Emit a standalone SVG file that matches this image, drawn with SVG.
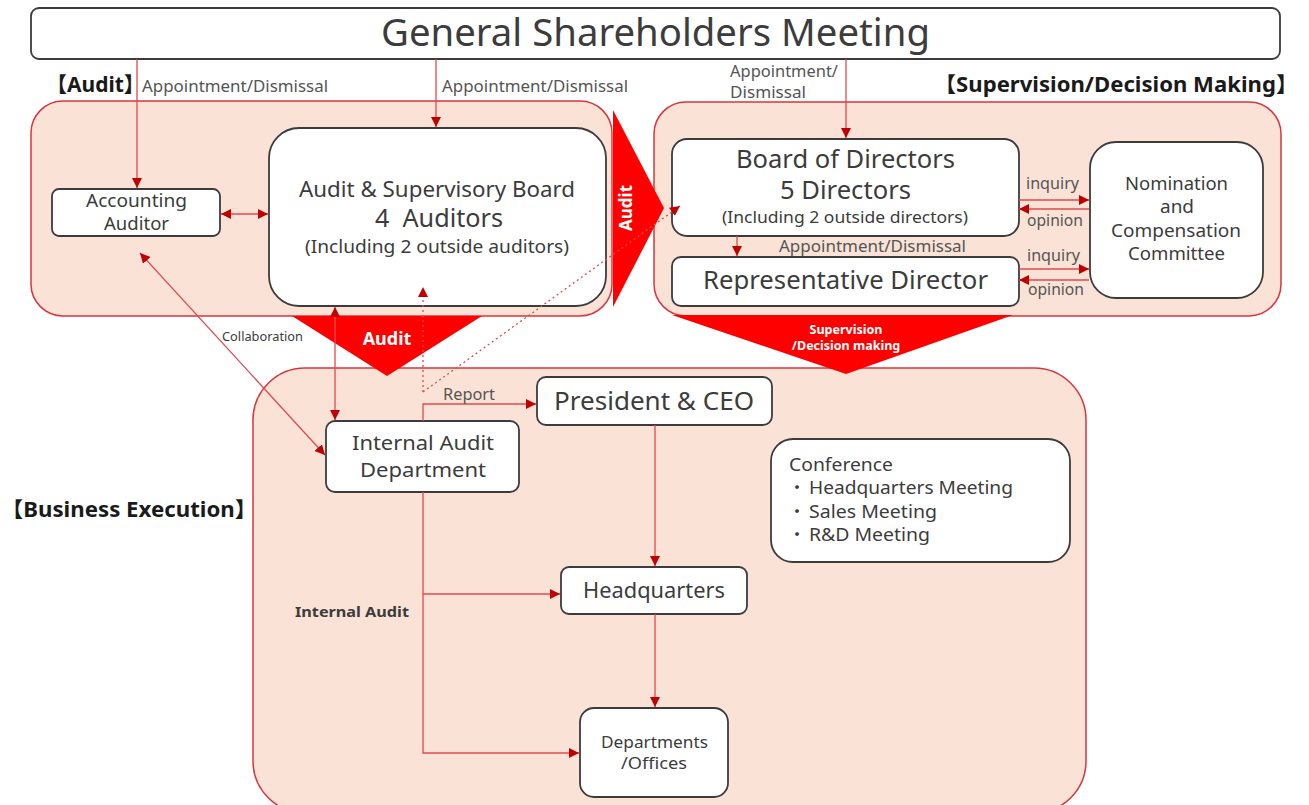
<svg xmlns="http://www.w3.org/2000/svg" width="1309" height="805" viewBox="0 0 1309 805">
<style>
text{font-family:"Noto Sans","Noto Sans CJK JP",sans-serif;fill:#3c3c3c}
.panel{fill:#fae3d6;stroke:#d9363c;stroke-width:1.5}
.box{fill:#fff;stroke:#3c3c3c;stroke-width:1.8}
.c{stroke:#e0494e;stroke-width:1.3;fill:none}
.dot{stroke:#e0494e;stroke-width:1.3;fill:none;stroke-dasharray:2 3}
.big{fill:#ff0000}
.lbl{font-size:16px;fill:#555}
.hd{font-size:21px;font-weight:bold;fill:#1a1a1a}
.m{text-anchor:middle}
.wt{fill:#fff;font-weight:bold;text-anchor:middle}
</style>
<defs>
<marker id="ah" viewBox="0 0 10 10" refX="10" refY="5" markerWidth="10" markerHeight="10" markerUnits="userSpaceOnUse" orient="auto-start-reverse">
<path d="M0,0 L10,5 L0,10 z" fill="#c00000"/>
</marker>
</defs>

<g id="panels">
<rect id="audit-panel" class="panel" x="31" y="101" width="581" height="215" rx="32"/>
<rect id="supervision-panel" class="panel" x="654" y="102" width="627" height="214" rx="32"/>
<rect id="business-panel" class="panel" x="253" y="368" width="833" height="445" rx="52"/>
</g>

<g id="big-arrows">
<polygon class="big" points="613,110 664,208 613,307"/>
<text class="wt" font-size="17" transform="translate(632,208) rotate(-90)">Audit</text>
<polygon class="big" points="292,316 482,316 387,376"/>
<text class="wt" x="387" y="345" font-size="18">Audit</text>
<polygon class="big" points="672,315 1013,315 846,374"/>
<text class="wt" x="846" y="334" font-size="12.5">Supervision</text>
<text class="wt" x="846" y="350" font-size="12.5">/Decision making</text>
</g>

<g id="section-labels">
<text class="hd" x="46" y="92">【Audit】</text>
<text class="hd" x="934" y="92" textLength="364" lengthAdjust="spacingAndGlyphs">【Supervision/Decision Making】</text>
<text class="hd" x="1" y="517" textLength="256" lengthAdjust="spacingAndGlyphs">【Business Execution】</text>
</g>

<g id="gsm">
<rect class="box" x="31" y="8" width="1249" height="51" rx="8"/>
<text x="381" y="46" font-size="38" fill="#222" textLength="549" lengthAdjust="spacingAndGlyphs">General Shareholders Meeting</text>
</g>

<g id="accounting-auditor">
<rect class="box" x="52" y="189" width="168" height="47" rx="7"/>
<text x="86" y="207" font-size="18" textLength="101" lengthAdjust="spacingAndGlyphs">Accounting</text>
<text x="104" y="230" font-size="18" textLength="65" lengthAdjust="spacingAndGlyphs">Auditor</text>
</g>

<g id="asb">
<rect class="box" x="269" y="128" width="337" height="178" rx="30"/>
<text x="299" y="197" font-size="22" textLength="276" lengthAdjust="spacingAndGlyphs">Audit &amp; Supervisory Board</text>
<text x="375" y="227" font-size="25" textLength="128" lengthAdjust="spacingAndGlyphs" xml:space="preserve">4  Auditors</text>
<text x="305" y="253" font-size="18" textLength="264" lengthAdjust="spacingAndGlyphs">(Including 2 outside auditors)</text>
</g>

<g id="board">
<rect class="box" x="672" y="139" width="347" height="97" rx="15"/>
<text x="736" y="168" font-size="25" textLength="219" lengthAdjust="spacingAndGlyphs">Board of Directors</text>
<text x="780" y="199" font-size="25" textLength="131" lengthAdjust="spacingAndGlyphs">5 Directors</text>
<text x="722" y="223" font-size="17" textLength="246" lengthAdjust="spacingAndGlyphs">(Including 2 outside directors)</text>
</g>

<g id="rep-director">
<rect class="box" x="672" y="257" width="347" height="49" rx="9"/>
<text x="703" y="289" font-size="25" textLength="285" lengthAdjust="spacingAndGlyphs">Representative Director</text>
</g>

<g id="nomination">
<rect class="box" x="1090" y="142" width="173" height="156" rx="26"/>
<text x="1125" y="190" font-size="18" textLength="103" lengthAdjust="spacingAndGlyphs">Nomination</text>
<text x="1160" y="213" font-size="18" textLength="34" lengthAdjust="spacingAndGlyphs">and</text>
<text x="1111" y="237" font-size="18" textLength="130" lengthAdjust="spacingAndGlyphs">Compensation</text>
<text x="1128" y="260" font-size="18" textLength="97" lengthAdjust="spacingAndGlyphs">Committee</text>
</g>

<g id="internal-audit-dept">
<rect class="box" x="326" y="421" width="193" height="71" rx="9"/>
<text x="352" y="450" font-size="20.5" textLength="142" lengthAdjust="spacingAndGlyphs">Internal Audit</text>
<text x="360" y="477" font-size="20.5" textLength="126" lengthAdjust="spacingAndGlyphs">Department</text>
</g>

<g id="president">
<rect class="box" x="537" y="377" width="235" height="48" rx="9"/>
<text x="554" y="410" font-size="26" textLength="200" lengthAdjust="spacingAndGlyphs">President &amp; CEO</text>
</g>

<g id="headquarters">
<rect class="box" x="561" y="567" width="186" height="47" rx="8"/>
<text x="583" y="598" font-size="22" textLength="142" lengthAdjust="spacingAndGlyphs">Headquarters</text>
</g>

<g id="departments">
<rect class="box" x="580" y="708" width="148" height="89" rx="14"/>
<text x="601" y="748" font-size="17" textLength="107" lengthAdjust="spacingAndGlyphs">Departments</text>
<text x="621" y="769" font-size="17" textLength="66" lengthAdjust="spacingAndGlyphs">/Offices</text>
</g>

<g id="conference">
<rect class="box" x="771" y="439" width="299" height="123" rx="22"/>
<text x="789" y="471" font-size="18" textLength="104" lengthAdjust="spacingAndGlyphs">Conference</text>
<text x="788" y="494" font-size="18">・</text>
<text x="809" y="494" font-size="18" textLength="204" lengthAdjust="spacingAndGlyphs">Headquarters Meeting</text>
<text x="788" y="518" font-size="18">・</text>
<text x="809" y="518" font-size="18" textLength="128" lengthAdjust="spacingAndGlyphs">Sales Meeting</text>
<text x="788" y="541" font-size="18">・</text>
<text x="809" y="541" font-size="18" textLength="121" lengthAdjust="spacingAndGlyphs">R&amp;D Meeting</text>
</g>

<g id="connectors">
<line class="c" x1="137" y1="59" x2="137" y2="188" marker-end="url(#ah)"/>
<text class="lbl" x="142" y="92" textLength="186" lengthAdjust="spacingAndGlyphs">Appointment/Dismissal</text>
<line class="c" x1="436" y1="59" x2="436" y2="127" marker-end="url(#ah)"/>
<text class="lbl" x="442" y="92" textLength="186" lengthAdjust="spacingAndGlyphs">Appointment/Dismissal</text>
<line class="c" x1="846" y1="59" x2="846" y2="138" marker-end="url(#ah)"/>
<text class="lbl" x="730" y="77" textLength="108" lengthAdjust="spacingAndGlyphs">Appointment/</text>
<text class="lbl" x="730" y="98" textLength="76" lengthAdjust="spacingAndGlyphs">Dismissal</text>
<line class="c" x1="221" y1="214" x2="268" y2="214" marker-start="url(#ah)" marker-end="url(#ah)"/>
<line class="c" x1="737" y1="236" x2="737" y2="256" marker-end="url(#ah)"/>
<text class="lbl" x="779" y="252" textLength="187" lengthAdjust="spacingAndGlyphs">Appointment/Dismissal</text>
<line class="c" x1="1019" y1="200" x2="1089" y2="200" marker-end="url(#ah)"/>
<line class="c" x1="1089" y1="209" x2="1019" y2="209" marker-end="url(#ah)"/>
<text class="lbl" x="1026" y="189" textLength="53" lengthAdjust="spacingAndGlyphs">inquiry</text>
<text class="lbl" x="1027" y="226" textLength="56" lengthAdjust="spacingAndGlyphs">opinion</text>
<line class="c" x1="1019" y1="269" x2="1089" y2="269" marker-end="url(#ah)"/>
<line class="c" x1="1089" y1="280" x2="1019" y2="280" marker-end="url(#ah)"/>
<text class="lbl" x="1027" y="261" textLength="53" lengthAdjust="spacingAndGlyphs">inquiry</text>
<text class="lbl" x="1028" y="295" textLength="56" lengthAdjust="spacingAndGlyphs">opinion</text>
<line class="c" x1="335" y1="307" x2="335" y2="420" marker-start="url(#ah)" marker-end="url(#ah)"/>
<line class="c" x1="140" y1="253" x2="325" y2="455" marker-start="url(#ah)" marker-end="url(#ah)"/>
<text x="222" y="341" font-size="12" fill="#666" textLength="81" lengthAdjust="spacingAndGlyphs">Collaboration</text>
<line class="dot" x1="423" y1="392" x2="423" y2="287" marker-end="url(#ah)"/>
<line class="dot" x1="423" y1="392" x2="680" y2="206" marker-end="url(#ah)"/>
<polyline class="c" points="423,421 423,404 536,404" marker-end="url(#ah)"/>
<text class="lbl" x="443" y="400" textLength="52" lengthAdjust="spacingAndGlyphs">Report</text>
<line class="c" x1="655" y1="425" x2="655" y2="566" marker-end="url(#ah)"/>
<line class="c" x1="655" y1="614" x2="655" y2="707" marker-end="url(#ah)"/>
<polyline class="c" points="423,492 423,753 579,753" marker-end="url(#ah)"/>
<line class="c" x1="423" y1="594" x2="560" y2="594" marker-end="url(#ah)"/>
<text x="295" y="617" font-size="15" font-weight="bold" fill="#1a1a1a" textLength="114" lengthAdjust="spacingAndGlyphs">Internal Audit</text>
</g>
</svg>
